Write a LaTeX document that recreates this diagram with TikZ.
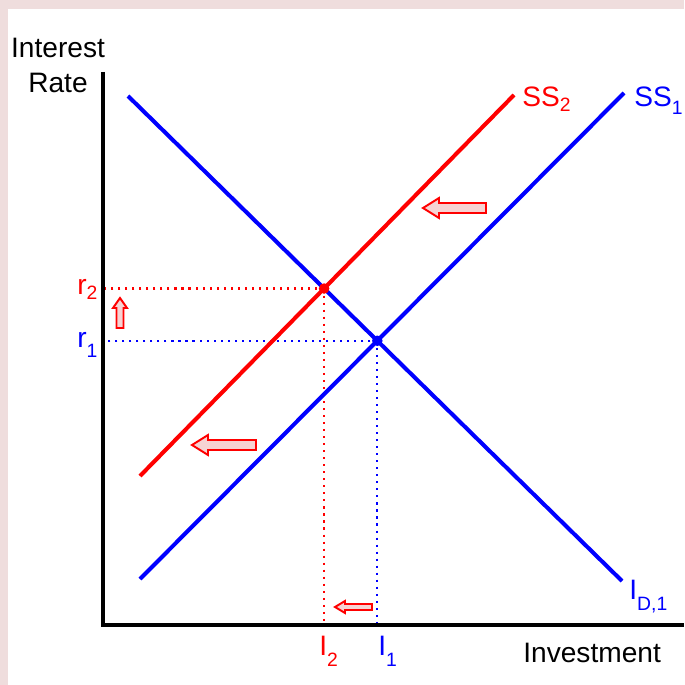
\documentclass[tikz,border=0pt]{standalone}
\usepackage{fontspec}
\setmainfont{Liberation Sans}
\usetikzlibrary{calc}
\definecolor{framePink}{HTML}{EFDDDD}
\definecolor{arrowFill}{HTML}{F6D3D3}
\definecolor{curveRed}{HTML}{FF0000}
\definecolor{curveBlue}{HTML}{0000FF}
% lowered subscript, drop given as optional argument
\newcommand{\lowsub}[2][4pt]{\raisebox{-#1}{\fontsize{11}{11}\selectfont #2}}

\begin{document}
\begin{tikzpicture}[
    x=0.02cm, y=-0.02cm,
    font=\fontsize{16}{20}\selectfont,
    % Axes
    axis/.style={draw=black, line width=2.4pt},
    % Supply and demand lines
    curve/.style={line width=2.3pt},
    % Dotted guides to the axes
    guide/.style={line width=1.2pt, dash pattern=on 1.2pt off 2.8pt},
    % Equilibrium points
    eqdot/.style={circle, fill, inner sep=0pt, minimum size=6pt},
    % Text labels
    txt/.style={inner sep=0pt},
    % Hollow shift arrows
    blockarrow/.style={draw=curveRed, fill=arrowFill, line width=1.1pt, line join=miter}
]

% --- FRAME ---
\fill[framePink] (0,0) rectangle (684,685);
\fill[white] (8,9) rectangle (684,685);
\useasboundingbox (0,0) rectangle (684,685);

% --- KEY POINTS ---
\coordinate (YTop) at (103,72);
\coordinate (Origin) at (103,625);
\coordinate (XEnd) at (684,625);
\coordinate (IDstart) at (128,96);
\coordinate (IDend) at (622,581);
\coordinate (SSonestart) at (140,579);
\coordinate (SSoneend) at (624,93);
\coordinate (SStwostart) at (140,476);
\coordinate (SStwoend) at (514,95);
\coordinate (EqOne) at (intersection of IDstart--IDend and SSonestart--SSoneend);
\coordinate (EqTwo) at (intersection of IDstart--IDend and SStwostart--SStwoend);

% --- GUIDES ---
\draw[guide, curveRed] (EqTwo) -- (EqTwo -| Origin);
\draw[guide, curveRed] (EqTwo) -- (EqTwo |- Origin);
\draw[guide, curveBlue] (EqOne) -- (EqOne -| Origin);
\draw[guide, curveBlue] (EqOne) -- (EqOne |- Origin);

% --- CURVES ---
\draw[curve, curveBlue] (IDstart) -- (IDend);
\draw[curve, curveBlue] (SSonestart) -- (SSoneend);
\draw[curve, curveRed] (SStwostart) -- (SStwoend);

% --- AXES ---
\draw[axis] (YTop) |- (XEnd);

% --- EQUILIBRIA ---
\node[eqdot, curveBlue] (EqOneDot) at (EqOne) {};
\node[eqdot, curveRed] (EqTwoDot) at (EqTwo) {};

% --- SHIFT ARROWS ---
\draw[blockarrow] (423,208) -- ++(16,-10) -- ++(0,5) -- ++(47,0) -- ++(0,10) -- ++(-47,0) -- ++(0,5) -- cycle;
\draw[blockarrow] (192,445) -- ++(16,-10) -- ++(0,5) -- ++(48,0) -- ++(0,10) -- ++(-48,0) -- ++(0,5) -- cycle;
\draw[blockarrow] (335,607) -- ++(10,-6) -- ++(0,3) -- ++(27,0) -- ++(0,6) -- ++(-27,0) -- ++(0,3) -- cycle;
\draw[blockarrow] (120,298) -- ++(7,10) -- ++(-3.5,0) -- ++(0,20) -- ++(-7,0) -- ++(0,-20) -- ++(-3.5,0) -- cycle;

% --- LABELS ---
\node[txt, anchor=north, align=center] (YLabel) at (58,38) {Interest\\Rate};
\node[txt, anchor=base west] (XLabel) at (523,662) {Investment};
\node[txt, anchor=base west, text=curveRed] (SStwoLabel) at (522,107) {SS\lowsub[2.8pt]{2}};
\node[txt, anchor=base west, text=curveBlue] (SSoneLabel) at (634,107) {SS\lowsub[4pt]{1}};
\node[txt, anchor=base west, text=curveBlue] (IDLabel) at (629,599) {I\lowsub[6.8pt]{D,1}};
\node[txt, anchor=base west, text=curveRed] (rtwoLabel) at (77,295) {r\lowsub[2.3pt]{2}};
\node[txt, anchor=base west, text=curveBlue] (roneLabel) at (77,347) {r\lowsub[6pt]{1}};
\node[txt, anchor=base west, text=curveRed] (ItwoLabel) at (319,655) {I\lowsub[6.8pt]{2}};
\node[txt, anchor=base west, text=curveBlue] (IoneLabel) at (378,655) {I\lowsub[6.8pt]{1}};

\end{tikzpicture}
\end{document}
